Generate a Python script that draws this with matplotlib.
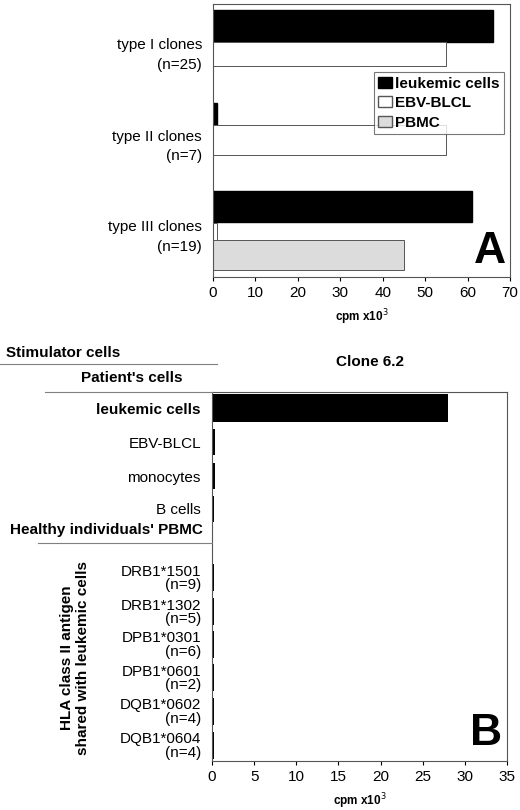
import matplotlib
matplotlib.use("Agg")
import matplotlib.pyplot as plt
from matplotlib.patches import Patch

plt.rcParams['font.family'] = ['Liberation Sans', 'DejaVu Sans']

# Panel A data
a_groups = ["type I clones\n(n=25)", "type II clones\n(n=7)", "type III clones\n(n=19)"]
a_leuk = [66, 1, 61]
a_ebv = [55, 55, 1]
a_pbmc = [0, 0, 45]
a_ticks = [0, 10, 20, 30, 40, 50, 60, 70]

# Panel B data
b_cats = ["leukemic cells", "EBV-BLCL", "monocytes", "B cells",
          "DRB1*1501\n(n=9)", "DRB1*1302\n(n=5)", "DPB1*0301\n(n=6)",
          "DPB1*0601\n(n=2)", "DQB1*0602\n(n=4)", "DQB1*0604\n(n=4)"]
b_vals = [28, 0.3, 0.3, 0.2, 0.2, 0.2, 0.2, 0.2, 0.2, 0.2]
b_ticks = [0, 5, 10, 15, 20, 25, 30, 35]

W, H = 520, 810
fig = plt.figure(figsize=(5.2, 8.1), dpi=100)

def ax_px(x0, y0, x1, y1):
    ax = fig.add_axes([x0 / W, 1 - y1 / H, (x1 - x0) / W, (y1 - y0) / H])
    ax.set_ylim(y1, y0)
    return ax

def fy(y):
    return 1 - y / H

edge = '#555555'

# ---- Panel A ----
axA = ax_px(213, 4, 510, 277)
axA.set_xlim(0, 70)
for s in axA.spines.values():
    s.set_color(edge)
axA.barh([26, 114, 207], a_leuk, height=[32, 22, 31], color='black', edgecolor='black')
axA.barh([54, 140, 235], a_ebv, height=[24, 30, 24], color='white', edgecolor=edge, linewidth=0.7)
axA.barh([78, 167, 255], a_pbmc, height=[24, 24, 30], color='#dcdcdc', edgecolor=edge, linewidth=0.7)
axA.set_yticks([51, 142, 233])
axA.set_yticklabels(a_groups, fontsize=11, ha='right', linespacing=1.5)
axA.tick_params(axis='y', length=0, pad=8)
axA.set_xticks(a_ticks)
axA.tick_params(axis='x', labelsize=11, direction='out', length=3, colors='black')
axA.set_xlabel("cpm x10$^3$", fontsize=8.5, fontweight='bold', labelpad=5)
leg = axA.legend(handles=[Patch(facecolor='black', edgecolor='black', label='leukemic cells'),
                          Patch(facecolor='white', edgecolor=edge, label='EBV-BLCL'),
                          Patch(facecolor='#dcdcdc', edgecolor=edge, label='PBMC')],
                 loc='upper right', bbox_to_anchor=(0.98, 0.75), fancybox=False, edgecolor=edge,
                 prop={'weight': 'bold', 'size': 11}, handlelength=0.9, handleheight=0.7,
                 handletextpad=0.2, borderpad=0.3, labelspacing=0.35, borderaxespad=0)
leg.get_frame().set_linewidth(0.8)
axA.text(0.985, 0.02, "A", transform=axA.transAxes, fontsize=32, fontweight='bold', ha='right', va='bottom')

# ---- Panel B ----
axB = ax_px(212, 392, 507, 761)
axB.set_xlim(0, 35)
for s in axB.spines.values():
    s.set_color(edge)
b_pos = [408, 442, 476, 509, 577, 611, 644, 677, 711, 745]
b_h = [28, 26, 26, 26, 27, 27, 27, 27, 27, 27]
axB.barh(b_pos, b_vals, height=b_h, color='black')
axB.set_yticks(b_pos)
axB.set_yticklabels(b_cats, fontsize=11, ha='right', linespacing=0.95)
axB.get_yticklabels()[0].set_fontweight('bold')
axB.tick_params(axis='y', length=0, pad=8)
axB.set_xticks(b_ticks)
axB.tick_params(axis='x', labelsize=11, direction='out', length=3)
axB.set_xlabel("cpm x10$^3$", fontsize=8.5, fontweight='bold', labelpad=5)
axB.text(0.985, 0.02, "B", transform=axB.transAxes, fontsize=32, fontweight='bold', ha='right', va='bottom')

# header texts and lines
fig.text(6 / W, fy(353), "Stimulator cells", fontsize=11, fontweight='bold', va='center')
fig.lines.append(plt.Line2D([0, 217 / W], [fy(364), fy(364)], color='gray', lw=0.8, transform=fig.transFigure))
fig.text(370 / W, fy(362), "Clone 6.2", fontsize=11, fontweight='bold', ha='center', va='center')
fig.text(132 / W, fy(378), "Patient's cells", fontsize=11, fontweight='bold', ha='center', va='center')
fig.lines.append(plt.Line2D([45 / W, 212 / W], [fy(392), fy(392)], color='gray', lw=0.8, transform=fig.transFigure))
fig.text(10 / W, fy(530), "Healthy individuals' PBMC", fontsize=11, fontweight='bold', va='center')
fig.lines.append(plt.Line2D([38 / W, 212 / W], [fy(543), fy(543)], color='gray', lw=0.8, transform=fig.transFigure))
fig.text(75 / W, fy(658), "HLA class II antigen\nshared with leukemic cells", fontsize=11, fontweight='bold',
         rotation=90, ha='center', va='center', linespacing=1.2)

fig.savefig("out.png", dpi=100)
